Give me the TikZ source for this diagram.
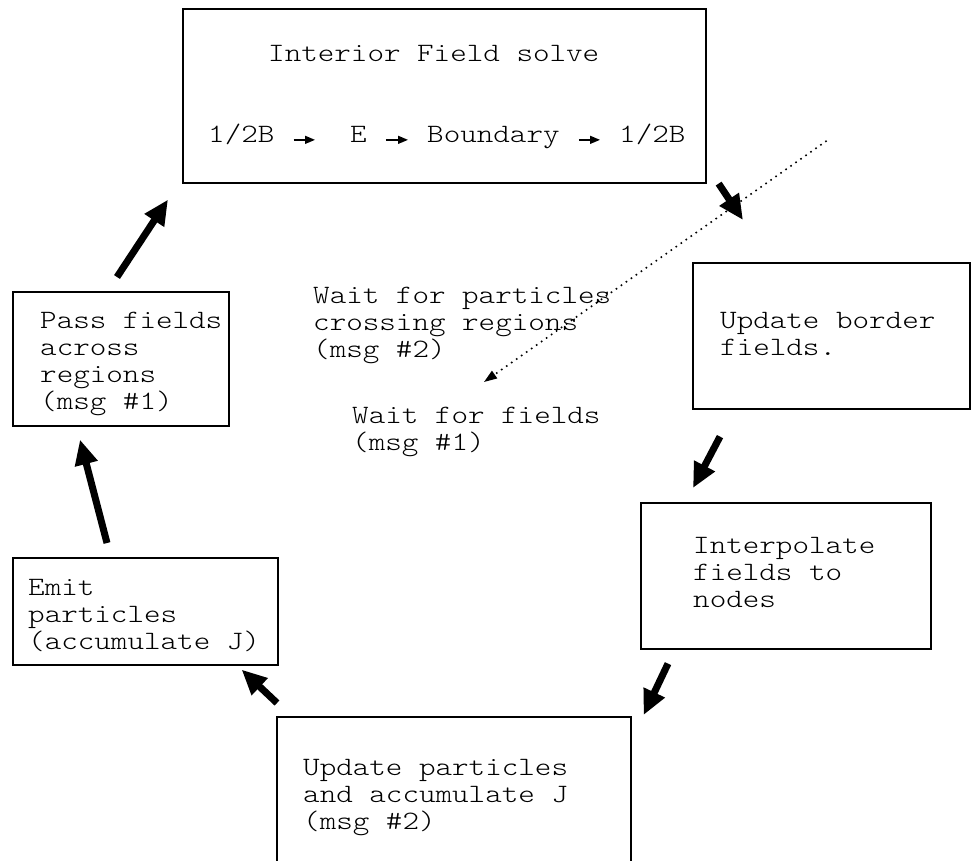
\documentclass[tikz,border=0pt]{standalone}
\usepackage{fontspec}
\usetikzlibrary{arrows.meta}
% light typewriter face used for every label, widened to typewriter cell proportions
\newfontfamily\typewriter{lmmonolt10-regular.otf}[FakeStretch=1.19]
\newcommand\labelfont{\fontsize{26.5}{27}\selectfont\typewriter\lineskiplimit=-50pt}
% fixed first-line height so the top of a label sits a known distance above its first baseline
\newcommand\firstline{\rule{0pt}{24pt}}
\begin{document}
\begin{tikzpicture}[x=1pt,y=-1pt,
  box/.style={draw=black, line width=1.6pt, rectangle, inner sep=0pt, anchor=north west},
  label/.style={anchor=north west, inner sep=0pt, align=left, font=\labelfont},
  word/.style={anchor=base west, inner sep=0pt, font=\labelfont},
  flow/.style={line width=7pt, -{Triangle[length=25pt,width=22pt]}},
  hint/.style={line width=1.6pt, dash pattern=on 1.6pt off 4.5pt,
               -{Triangle[length=13pt,width=9pt]}},
  tinyarrow/.style={line width=1.4pt, -{Triangle[length=10pt,width=8pt]}}
]
\clip (0,0) rectangle (971,860);
\useasboundingbox (0,0) rectangle (971,860);

% ---------------- boxes ----------------
\node[box, minimum width=523pt, minimum height=174pt] (top)    at (182,8)   {};
\node[box, minimum width=216pt, minimum height=134pt] (pass)   at (12,291)  {};
\node[box, minimum width=265pt, minimum height=107pt] (emit)   at (12,557)  {};
\node[box, minimum width=277pt, minimum height=146pt] (upd)    at (692,262) {};
\node[box, minimum width=290pt, minimum height=146pt] (interp) at (640,502) {};
\node[box, minimum width=354pt, minimum height=200pt] (bottom) at (276,716) {};

% ---------------- box texts ----------------
\node[label] (title) at (268,37)  {\firstline Interior Field solve};
\node[word]  (h1) at (208,142) {1/2B};
\node[word]  (h2) at (350,142) {E};
\node[word]  (h3) at (427,142) {Boundary};
\node[word]  (h4) at (619,142) {1/2B};
\draw[tinyarrow] ([xshift=19pt]h1.mid east) -- ([xshift=-35pt]h2.mid west);
\draw[tinyarrow] ([xshift=19pt]h2.mid east) -- ([xshift=-19pt]h3.mid west);
\draw[tinyarrow] ([xshift=19pt]h3.mid east) -- ([xshift=-19pt]h4.mid west);

\node[label] (passtxt)   at (40,304)  {\firstline Pass fields\\across\\regions\\(msg \#1)};
\node[label] (emittxt)   at (28,571)  {\firstline Emit\\particles\\(accumulate J)};
\node[label] (updtxt)    at (720,304) {\firstline Update border\\fields.};
\node[label] (interptxt) at (693,529) {\firstline Interpolate\\fields to\\nodes};
\node[label] (bottomtxt) at (303,751) {\firstline Update particles\\and accumulate J\\(msg \#2)};

% ---------------- free-standing notes ----------------
\node[label] (wait1) at (313,279) {\firstline Wait for particles\\crossing regions\\(msg \#2)};
\node[label] (wait2) at (352,399) {\firstline Wait for fields\\(msg \#1)};

% ---------------- cycle arrows ----------------
\draw[flow] ([shift={(12,0)}]top.south east)     -- ([shift={(51,-42)}]upd.north west);
\draw[flow] ([shift={(28,27)}]upd.south west)    -- ([shift={(53,-14)}]interp.north west);
\draw[flow] ([shift={(28,14)}]interp.south west) -- ([shift={(12,-1)}]bottom.north east);
\draw[flow] ([shift={(1,-13)}]bottom.north west) -- ([shift={(-37,4)}]emit.south east);
\draw[flow] ([shift={(95,-14)}]emit.north west)  -- ([shift={(68,13)}]pass.south west);
\draw[flow] ([shift={(105,-14)}]pass.north west) -- ([shift={(-14,16)}]top.south west);

% ---------------- dotted hint ----------------
\draw[hint] ([shift={(120,45)}]top.east) -- ([shift={(132,-17)}]wait2.north west);
\end{tikzpicture}
\end{document}
